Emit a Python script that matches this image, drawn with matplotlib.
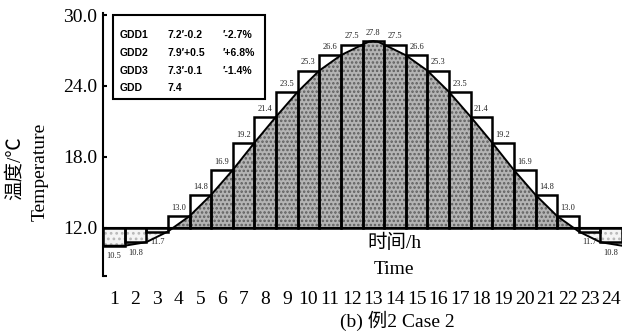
import matplotlib
matplotlib.use("Agg")
import matplotlib.pyplot as plt
from matplotlib.patches import Rectangle

# hourly temperature values
hours = list(range(1, 25))
temps = [10.5, 10.8, 11.7, 13.0, 14.8, 16.9, 19.2, 21.4, 23.5, 25.3, 26.6, 27.5,
         27.8, 27.5, 26.6, 25.3, 23.5, 21.4, 19.2, 16.9, 14.8, 13.0, 11.7, 10.8]

# smooth temperature curve
curve_x = [0.5, 1.5, 2.5, 3.5, 4.5, 5.5, 6.5, 7.5, 8.5, 9.5, 10.5, 11.5, 12.5,
           12.8, 13.0, 13.2, 13.5, 14.5, 15.5, 16.5, 17.5, 18.5, 19.5, 20.5,
           21.5, 22.5, 23.5, 24.5]
curve_y = [10.5, 10.5, 10.8, 11.7, 13.0, 14.8, 16.9, 19.2, 21.4, 23.5, 25.3, 26.6, 27.5,
           27.75, 27.8, 27.75, 27.5, 26.6, 25.3, 23.5, 21.4, 19.2, 16.9, 14.8,
           13.0, 11.7, 10.8, 10.5]

base = 12.0
yticks = [12.0, 18.0, 24.0, 30.0]

legend_rows = [("GDD1", "7.2\u2032-0.2", "\u2032-2.7%"),
               ("GDD2", "7.9\u2032+0.5", "\u2032+6.8%"),
               ("GDD3", "7.3\u2032-0.1", "\u2032-1.4%"),
               ("GDD", "7.4", "")]

W, H = 633, 336
serif = ["Liberation Serif", "Noto Sans CJK SC", "DejaVu Sans"]
sans = ["Liberation Sans", "DejaVu Sans"]


def px(x, y):
    return x / W, 1 - y / H


plt.rcParams["hatch.linewidth"] = 1.2
fig = plt.figure(figsize=(W / 100, H / 100), dpi=100)
ax = fig.add_axes([103 / W, 1 - 276 / H, 519 / W, 263 / H])
ax.set_xlim(0.5, 24.5)
ax.set_ylim(7.94, 30.17)

# area under curve
ax.fill_between(curve_x, base, curve_y, where=[v >= base for v in curve_y],
                interpolate=True, facecolor="#b4b4b4", edgecolor="#5e5e5e",
                hatch="....", linewidth=0, zorder=1)
ax.fill_between(curve_x, base, curve_y, where=[v <= base for v in curve_y],
                interpolate=True, facecolor="#f4f4f4", edgecolor="#b8b8b8",
                hatch="...", linewidth=0, zorder=1)

# bar outlines
for h, t in zip(hours, temps):
    ax.add_patch(Rectangle((h - 0.5, min(t, base)), 1, abs(t - base),
                           fill=False, edgecolor="black", linewidth=1.8, zorder=3))
    if t >= base:
        ax.text(h, t + 0.35, f"{t:.1f}", ha="center", va="bottom", fontsize=6,
                family=serif, color="#222222", zorder=4)
    else:
        ax.text(h, t - 0.9, f"{t:.1f}", ha="center", va="center", fontsize=6,
                family=serif, color="#222222", zorder=4)

ax.plot(curve_x, curve_y, color="black", linewidth=1.4, solid_joinstyle="round", zorder=4)
ax.axhline(base, color="black", linewidth=1.5, zorder=2)

for s in ["top", "right", "bottom"]:
    ax.spines[s].set_visible(False)
ax.spines["left"].set_linewidth(1.5)

ax.set_yticks(yticks)
ax.set_yticklabels([f"{v:.1f}" for v in yticks], family=serif, fontsize=14)
ax.set_yticks([7.97], minor=True)
ax.tick_params(axis="y", which="both", direction="in", length=3, width=1.5, pad=4)
ax.set_xticks(hours)
ax.set_xticklabels([str(h) for h in hours], family=serif, fontsize=14)
ax.tick_params(axis="x", length=0, pad=11)

# axis titles
fig.text(*px(15, 168), "温度/℃", rotation=90, ha="center", va="center",
         fontsize=14, family=serif)
fig.text(*px(40, 172), "Temperature", rotation=90, ha="center", va="center",
         fontsize=14, family=serif)
fig.text(*px(394, 243), "时间/h", ha="center", va="center", fontsize=14, family=serif)
fig.text(*px(394, 270), "Time", ha="center", va="center", fontsize=14, family=serif)
fig.text(*px(397, 321), "(b) 例2 Case 2", ha="center", va="center", fontsize=14, family=serif)

# GDD box
x0, y0 = px(113, 99)
x1, y1 = px(265, 15)
fig.add_artist(Rectangle((x0, y0), x1 - x0, y1 - y0, transform=fig.transFigure,
                         fill=True, facecolor="white", edgecolor="black",
                         linewidth=1.5, zorder=5))
for (name, val, pct), ry in zip(legend_rows, [35, 53, 71, 88]):
    for txt, rx in [(name, 120), (val, 167), (pct, 223)]:
        fig.text(*px(rx, ry), txt, ha="left", va="center", fontsize=7.5,
                 fontweight="bold", family=sans, zorder=6)

fig.savefig("out.png", dpi=100)
